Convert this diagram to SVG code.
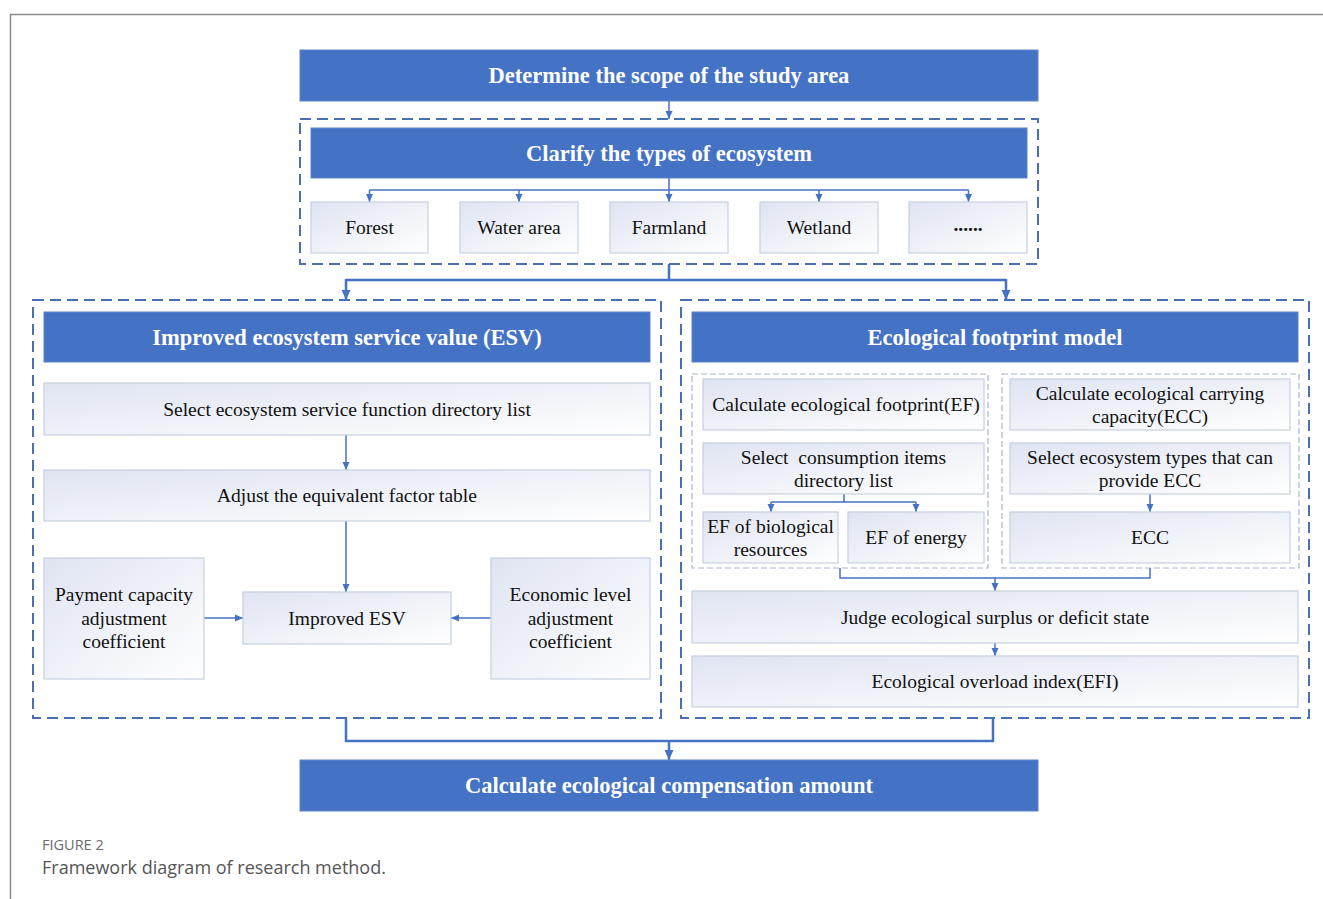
<svg xmlns="http://www.w3.org/2000/svg" width="1323" height="899" viewBox="0 0 1323 899">
<defs>
<linearGradient id="lg" x1="0" y1="0" x2="1" y2="1">
<stop offset="0" stop-color="#dfe4f2"/>
<stop offset="1" stop-color="#ffffff"/>
</linearGradient>
<marker id="aS" markerUnits="userSpaceOnUse" markerWidth="8" markerHeight="8" viewBox="0 0 8 8" refX="8" refY="4" orient="auto">
<path d="M0,0.5 L8,4 L0,7.5 Z" fill="#4472c4"/>
</marker>
<marker id="aL" markerUnits="userSpaceOnUse" markerWidth="10" markerHeight="10" viewBox="0 0 10 10" refX="10" refY="5" orient="auto">
<path d="M0,0.5 L10,5 L0,9.5 Z" fill="#4472c4"/>
</marker>
</defs>
<style>
.blue{fill:#4472c4;stroke:#5b84cc;stroke-width:1}
.lt{fill:url(#lg);stroke:#c6d0e2;stroke-width:1.2}
.ht{font-family:"Liberation Serif",serif;font-weight:bold;font-size:22.5px;fill:#ffffff;text-anchor:middle}
.bt{font-family:"Liberation Serif",serif;font-size:19.5px;fill:#111111;text-anchor:middle}
.od{fill:none;stroke:#4a70b4;stroke-width:2;stroke-dasharray:11 6}
.id{fill:none;stroke:#a9b6cc;stroke-width:1.2;stroke-dasharray:6 3}
.c{fill:none;stroke:#4472c4;stroke-width:1.5}
.ct{fill:none;stroke:#4472c4;stroke-width:2.5}
.frame{fill:none;stroke:#8a8a8a;stroke-width:1.5}
</style>
<rect width="1323" height="899" fill="#ffffff"/>
<path class="frame" d="M10.5 899 V14.5 H1323"/>

<g id="container-types"><rect class="od" x="300" y="119" width="738" height="145"/></g>
<g id="container-esv"><rect class="od" x="33" y="300" width="628" height="418"/></g>
<g id="container-ef"><rect class="od" x="681" y="300" width="628" height="418"/></g>
<g id="container-ef-calc"><rect class="id" x="692" y="374" width="296" height="194"/></g>
<g id="container-ecc-calc"><rect class="id" x="1002" y="374" width="297" height="194"/></g>

<g id="connectors">
<path class="c" d="M669 101 V119" marker-end="url(#aS)"/>
<path class="c" d="M669 178 V190 M369.5 190 H968.5"/>
<path class="c" d="M369.5 190 V202" marker-end="url(#aS)"/>
<path class="c" d="M519 190 V202" marker-end="url(#aS)"/>
<path class="c" d="M669 190 V202" marker-end="url(#aS)"/>
<path class="c" d="M819 190 V202" marker-end="url(#aS)"/>
<path class="c" d="M968.5 190 V202" marker-end="url(#aS)"/>
<path class="ct" d="M669 264 V280 M346 280 H1006"/>
<path class="ct" d="M346 279 V300" marker-end="url(#aL)"/>
<path class="ct" d="M1006 279 V300" marker-end="url(#aL)"/>
<path class="c" d="M346 435 V470" marker-end="url(#aS)"/>
<path class="c" d="M346 521 V592" marker-end="url(#aS)"/>
<path class="c" d="M204 618 H243" marker-end="url(#aS)"/>
<path class="c" d="M491 618 H451" marker-end="url(#aS)"/>
<path class="c" d="M844 494 V502 M771 502 H916"/>
<path class="c" d="M771 502 V512" marker-end="url(#aS)"/>
<path class="c" d="M916 502 V512" marker-end="url(#aS)"/>
<path class="c" d="M1150 494 V512" marker-end="url(#aS)"/>
<path class="c" d="M840 568 V578 H1150 V568"/>
<path class="c" d="M995 578 V591" marker-end="url(#aS)"/>
<path class="c" d="M995 643 V656" marker-end="url(#aS)"/>
<path class="ct" d="M346 718 V741 H993 V718"/>
<path class="ct" d="M669 740 V760" marker-end="url(#aL)"/>
</g>

<g id="n-scope"><rect class="blue" x="300" y="50" width="738" height="51"/><text class="ht" x="669" y="83">Determine the scope of the study area</text></g>
<g id="n-clarify"><rect class="blue" x="311" y="128" width="716" height="50"/><text class="ht" x="669" y="161">Clarify the types of ecosystem</text></g>
<g id="n-forest"><rect class="lt" x="311" y="202" width="117" height="51"/><text class="bt" x="369.5" y="234">Forest</text></g>
<g id="n-water"><rect class="lt" x="460" y="202" width="118" height="51"/><text class="bt" x="519" y="234">Water area</text></g>
<g id="n-farmland"><rect class="lt" x="610" y="202" width="118" height="51"/><text class="bt" x="669" y="234">Farmland</text></g>
<g id="n-wetland"><rect class="lt" x="760" y="202" width="118" height="51"/><text class="bt" x="819" y="234">Wetland</text></g>
<g id="n-more"><rect class="lt" x="909" y="202" width="118" height="51"/><text class="bt" x="968" y="231" font-weight="bold">......</text></g>

<g id="n-esv-head"><rect class="blue" x="44" y="312" width="606" height="50"/><text class="ht" x="347" y="345">Improved ecosystem service value (ESV)</text></g>
<g id="n-select-esf"><rect class="lt" x="44" y="383" width="606" height="52"/><text class="bt" x="347" y="416">Select ecosystem service function directory list</text></g>
<g id="n-adjust"><rect class="lt" x="44" y="470" width="606" height="51"/><text class="bt" x="347" y="502">Adjust the equivalent factor table</text></g>
<g id="n-payment"><rect class="lt" x="44" y="558" width="160" height="121"/><text class="bt" x="124" y="601">Payment capacity</text><text class="bt" x="124" y="625">adjustment</text><text class="bt" x="124" y="648">coefficient</text></g>
<g id="n-improved-esv"><rect class="lt" x="243" y="592" width="208" height="52"/><text class="bt" x="347" y="625">Improved ESV</text></g>
<g id="n-economic"><rect class="lt" x="491" y="558" width="159" height="121"/><text class="bt" x="570.5" y="601">Economic level</text><text class="bt" x="570.5" y="625">adjustment</text><text class="bt" x="570.5" y="648">coefficient</text></g>

<g id="n-ef-head"><rect class="blue" x="692" y="312" width="606" height="50"/><text class="ht" x="995" y="345">Ecological footprint model</text></g>
<g id="n-calc-ef"><rect class="lt" x="703" y="379" width="281" height="51"/><text class="bt" x="846" y="411">Calculate ecological footprint(EF)</text></g>
<g id="n-select-cons"><rect class="lt" x="703" y="443" width="281" height="51"/><text class="bt" x="843.5" y="464" xml:space="preserve">Select  consumption items</text><text class="bt" x="843.5" y="487">directory list</text></g>
<g id="n-ef-bio"><rect class="lt" x="703" y="512" width="135" height="51"/><text class="bt" x="770.5" y="533">EF of biological</text><text class="bt" x="770.5" y="556">resources</text></g>
<g id="n-ef-energy"><rect class="lt" x="848" y="512" width="136" height="51"/><text class="bt" x="916" y="544">EF of energy</text></g>
<g id="n-calc-ecc"><rect class="lt" x="1010" y="379" width="280" height="51"/><text class="bt" x="1150" y="400">Calculate ecological carrying</text><text class="bt" x="1150" y="423">capacity(ECC)</text></g>
<g id="n-select-eco"><rect class="lt" x="1010" y="443" width="280" height="51"/><text class="bt" x="1150" y="464">Select ecosystem types that can</text><text class="bt" x="1150" y="487">provide ECC</text></g>
<g id="n-ecc"><rect class="lt" x="1010" y="512" width="280" height="51"/><text class="bt" x="1150" y="544">ECC</text></g>
<g id="n-judge"><rect class="lt" x="692" y="591" width="606" height="52"/><text class="bt" x="995" y="624">Judge ecological surplus or deficit state</text></g>
<g id="n-efi"><rect class="lt" x="692" y="656" width="606" height="51"/><text class="bt" x="995" y="688">Ecological overload index(EFI)</text></g>

<g id="n-compensation"><rect class="blue" x="300" y="760" width="738" height="51"/><text class="ht" x="669" y="793">Calculate ecological compensation amount</text></g>

<g id="caption">
<text x="42" y="850" font-family="'Open Sans',sans-serif" font-size="14.5" fill="#6b6b6b">FIGURE 2</text>
<text x="42" y="874" font-family="'Open Sans',sans-serif" font-size="18" fill="#555555">Framework diagram of research method.</text>
</g>
</svg>
